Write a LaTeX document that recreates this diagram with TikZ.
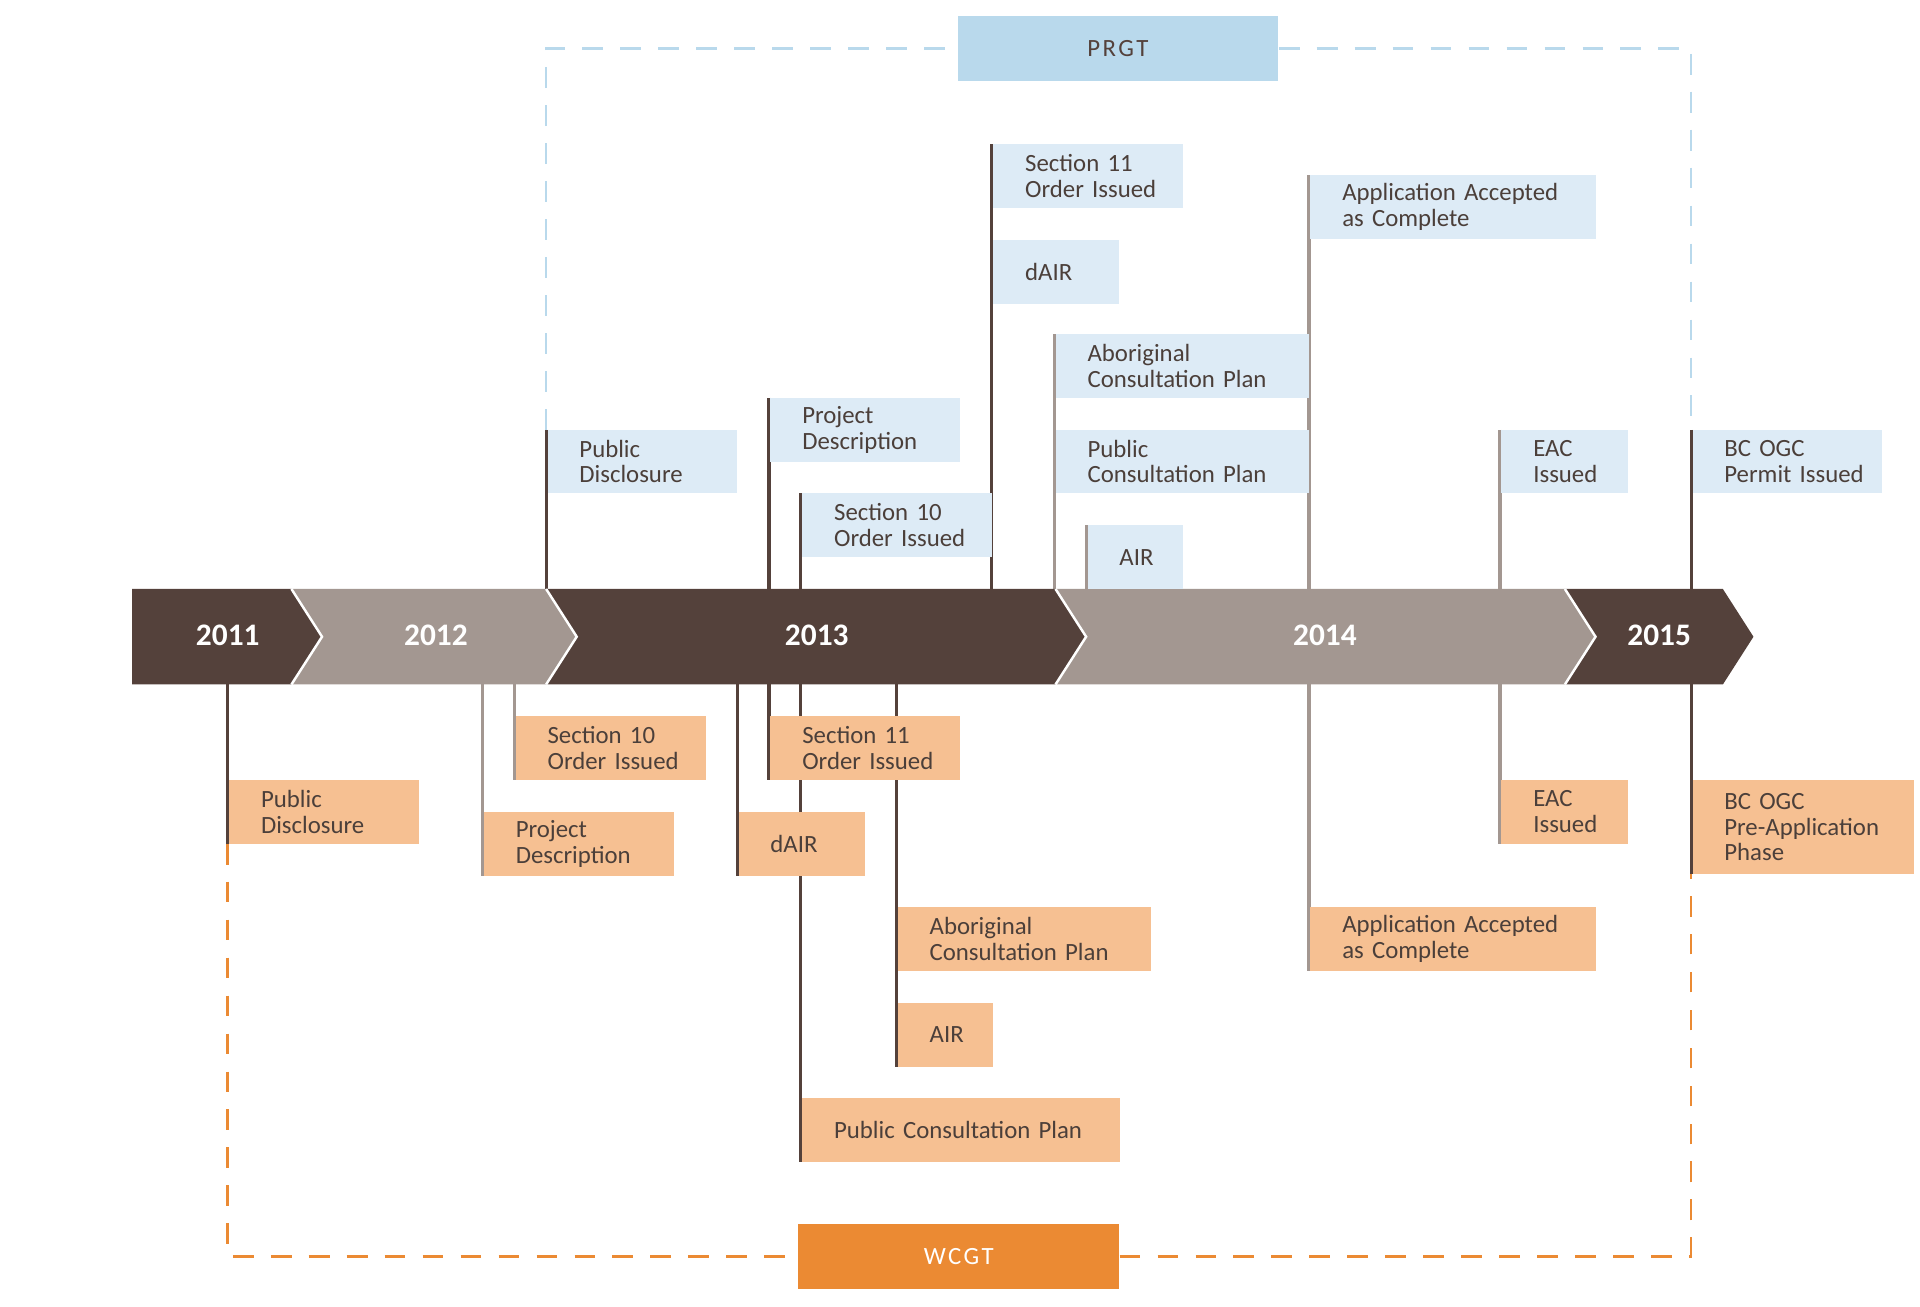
\documentclass[tikz,border=0pt]{standalone}
\usepackage{fontspec}
\setmainfont{Carlito}
\usetikzlibrary{backgrounds}
\definecolor{dband}{HTML}{54413B}
\definecolor{lband}{HTML}{A39791}
\definecolor{pblue}{HTML}{DDEBF6}
\definecolor{pdark}{HTML}{B9D9EC}
\definecolor{worange}{HTML}{F6C092}
\definecolor{wdark}{HTML}{EB8A33}
\definecolor{txt}{HTML}{4B3F3A}
\begin{document}
\begin{tikzpicture}[x=0.025cm, y=-0.025cm,
  box/.style={anchor=north west, inner xsep=0.325cm, inner ysep=0pt, outer xsep=0.03cm, outer ysep=0pt,
    align=left, minimum height=1.3cm, text=txt, font=\fontsize{14.4}{14.9}\selectfont,
    execute at begin node={\leftskip=0.325cm}},
  pbox/.style={box, fill=pblue},
  wbox/.style={box, fill=worange},
  sdark/.style={draw=dband, line width=0.0625cm},
  slight/.style={draw=lband, line width=0.0625cm},
  sep/.style={draw=white, line width=0.05cm},
  year/.style={text=white, font=\bfseries\fontsize{18.2}{20}\selectfont},
  tag/.style={minimum width=6.55cm, minimum height=1.33cm, inner sep=0pt,
    font={\fontsize{14.4}{15}\selectfont\addfontfeature{LetterSpace=10}}},
  pdash/.style={draw=pdark, line width=0.055cm, dash pattern=on 0.425cm off 0.35cm},
  wdash/.style={draw=wdark, line width=0.055cm, dash pattern=on 0.425cm off 0.35cm}]
  \useasboundingbox (0,0) rectangle (1568,1066.6);
  \coordinate (btop) at (0,481);
  \coordinate (bbot) at (0,559);

  % timeline band
  \fill[dband] (108,481) -- (238,481) -- (263,520) -- (238,559) -- (108,559) -- cycle;
  \fill[lband] (238,481) -- (446,481) -- (471,520) -- (446,559) -- (238,559) -- (263,520) -- cycle;
  \fill[dband] (446,481) -- (862,481) -- (887,520) -- (862,559) -- (446,559) -- (471,520) -- cycle;
  \fill[lband] (862,481) -- (1278,481) -- (1303,520) -- (1278,559) -- (862,559) -- (887,520) -- cycle;
  \fill[dband] (1278,481) -- (1407,481) -- (1432,520) -- (1407,559) -- (1278,559) -- (1303,520) -- cycle;
  \draw[sep] (238,481) -- (263,520) -- (238,559);
  \draw[sep] (446,481) -- (471,520) -- (446,559);
  \draw[sep] (862,481) -- (887,520) -- (862,559);
  \draw[sep] (1278,481) -- (1303,520) -- (1278,559);
  \node[year] (y2011) at (186,519) {2011};
  \node[year] (y2012) at (356,519) {2012};
  \node[year] (y2013) at (667,519) {2013};
  \node[year] (y2014) at (1082,519) {2014};
  \node[year] (y2015) at (1355,519) {2015};

  % PRGT
  \node[tag, fill=pdark, text=dband] (prgt) at (913,39.5) {PRGT};
  \node[pbox, text width=3.225cm] (tPD) at (446,351) {Public\\Disclosure};
  \node[pbox, text width=3.225cm] (tPrD) at (628,325) {Project\\Description};
  \node[pbox, text width=3.225cm] (tS10) at (654,403) {Section 10\\Order Issued};
  \node[pbox, text width=3.225cm] (tS11) at (810,118) {Section 11\\Order Issued};
  \node[pbox, text width=1.925cm] (tdAIR) at (810,196) {dAIR};
  \node[pbox, text width=4.525cm] (tACP) at (861,273) {Aboriginal\\Consultation Plan};
  \node[pbox, text width=4.525cm] (tPCP) at (861,351) {Public\\Consultation Plan};
  \node[pbox, text width=1.3cm] (tAIR) at (887,429) {AIR};
  \node[pbox, text width=5.175cm] (tAAC) at (1069,143) {Application Accepted\\as Complete};
  \node[pbox, text width=1.925cm] (tEAC) at (1225,351) {EAC\\Issued};
  \node[pbox, text width=3.225cm] (tBC) at (1381,351) {BC OGC\\Permit Issued};

  % WCGT
  \node[tag, fill=wdark, text=white] (wcgt) at (783,1026) {WCGT};
  \node[wbox, text width=3.225cm] (bPD) at (186,637) {Public\\Disclosure};
  \node[wbox, text width=3.225cm] (bPrD) at (394,663) {Project\\Description};
  \node[wbox, text width=3.225cm] (bS10) at (420,585) {Section 10\\Order Issued};
  \node[wbox, text width=1.925cm] (bdAIR) at (602,663) {dAIR};
  \node[wbox, text width=3.225cm] (bS11) at (628,585) {Section 11\\Order Issued};
  \node[wbox, text width=5.825cm] (bPCP) at (654,897) {Public Consultation Plan};
  \node[wbox, text width=4.525cm] (bACP) at (732,741) {Aboriginal\\Consultation Plan};
  \node[wbox, text width=1.3cm] (bAIR) at (732,819) {AIR};
  \node[wbox, text width=5.175cm] (bAAC) at (1069,741) {Application Accepted\\as Complete};
  \node[wbox, text width=1.925cm] (bEAC) at (1225,637) {EAC\\Issued};
  \node[wbox, text width=3.875cm, minimum height=1.925cm] (bBC) at (1381,637) {BC OGC\\Pre-Application\\Phase};

  \begin{scope}[on background layer]
    \draw[pdash] (tPD.north west) |- (prgt.west);
    \draw[pdash] (prgt.east) -| (tBC.north west);
    \draw[wdash] (bPD.south west) |- (wcgt.west);
    \draw[wdash] (wcgt.east) -| (bBC.south west);
    \draw[sdark] (tPD.north west) -- (tPD.north west |- btop);
    \draw[sdark] (tPrD.north west) -- (tPrD.north west |- btop);
    \draw[sdark] (tS10.north west) -- (tS10.north west |- btop);
    \draw[sdark] (tS11.north west) -- (tS11.north west |- btop);
    \draw[slight] (tACP.north west) -- (tACP.north west |- btop);
    \draw[slight] (tAIR.north west) -- (tAIR.north west |- btop);
    \draw[slight] (tAAC.north west) -- (tAAC.north west |- btop);
    \draw[slight] (tEAC.north west) -- (tEAC.north west |- btop);
    \draw[sdark] (tBC.north west) -- (tBC.north west |- btop);
    \draw[sdark] (bPD.south west |- bbot) -- (bPD.south west);
    \draw[slight] (bPrD.south west |- bbot) -- (bPrD.south west);
    \draw[slight] (bS10.south west |- bbot) -- (bS10.south west);
    \draw[sdark] (bdAIR.south west |- bbot) -- (bdAIR.south west);
    \draw[sdark] (bS11.south west |- bbot) -- (bS11.south west);
    \draw[sdark] (bPCP.south west |- bbot) -- (bPCP.south west);
    \draw[sdark] (bAIR.south west |- bbot) -- (bAIR.south west);
    \draw[slight] (bAAC.south west |- bbot) -- (bAAC.south west);
    \draw[slight] (bEAC.south west |- bbot) -- (bEAC.south west);
    \draw[sdark] (bBC.south west |- bbot) -- (bBC.south west);
  \end{scope}
\end{tikzpicture}
\end{document}
